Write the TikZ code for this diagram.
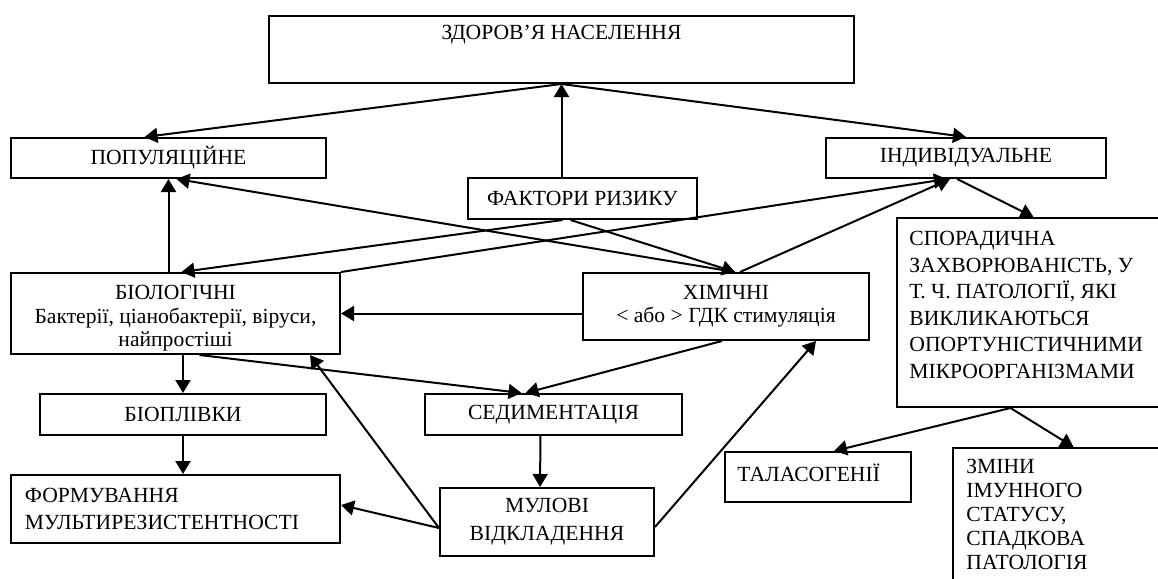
\documentclass[tikz,border=0pt]{standalone}
\usepackage{fontspec}
\setmainfont{Liberation Serif}
\usepackage{tikz}
\usetikzlibrary{arrows.meta}
\newcommand{\boxfont}[1]{\fontsize{10.8}{#1}\selectfont}
\tikzset{
  blk/.style = {rectangle, draw=black, line width=1pt, inner sep=0pt, align=center, font=\boxfont{12}},
  tl/.style = {anchor=north west, align=left, inner sep=0pt, font=\boxfont{13}},
  tc/.style = {anchor=north, inner sep=0pt, font=\boxfont{13}},
  arr/.style = {->, line width=1pt},
  >={Triangle[length=6.5pt, width=7.5pt]},
}
\begin{document}
\begin{tikzpicture}[x=0.5pt, y=-0.5pt]
\path[use as bounding box, clip] (0,0) rectangle (1158,579);
\node [blk, minimum width=292.5pt, minimum height=33.5pt,
  label={[tc, yshift=-5pt]north:ЗДОРОВ’Я НАСЕЛЕННЯ}] (zd) at (561.5,49.5) {};
\node [blk, minimum width=157.5pt, minimum height=20pt] (pop) at (168.5,158) {ПОПУЛЯЦІЙНЕ};
\node [blk, minimum width=140pt, minimum height=20pt] (ind) at (966,158) {ІНДИВІДУАЛЬНЕ};
\node [blk, minimum width=114.5pt, minimum height=20.5pt] (fak) at (582.5,198.5) {ФАКТОРИ РИЗИКУ};
\node [blk, minimum width=164.5pt, minimum height=40.5pt,
  label={[align=center, inner sep=0pt, yshift=-2.5pt, font=\boxfont{11.75}]center:{БІОЛОГІЧНІ\\Бактерії, ціанобактерії, віруси,\\найпростіші}}] (bio) at (175.5,313.5) {};
\node [blk, minimum width=143pt, minimum height=33.5pt, font=\boxfont{11.5}] (xim) at (726,306.5)
  {ХІМІЧНІ\\< або > ГДК стимуляція};
\node [blk, minimum width=136.5pt, minimum height=94.5pt,
  label={[tl, xshift=6.5pt, yshift=-7pt, font=\boxfont{13.25}]north west:{СПОРАДИЧНА\\ЗАХВОРЮВАНІСТЬ, У\\Т. Ч. ПАТОЛОГІЇ, ЯКІ\\ВИКЛИКАЮТЬСЯ\\ОПОРТУНІСТИЧНИМИ\\МІКРООРГАНІЗМАМИ}}] (spor) at (1033.5,312.5) {};
\node [blk, minimum width=143pt, minimum height=20.5pt] (bpl) at (183,414.5) {БІОПЛІВКИ};
\node [blk, minimum width=128.5pt, minimum height=20.5pt] (sed) at (553.5,414.5) {СЕДИМЕНТАЦІЯ};
\node [blk, minimum width=164.5pt, minimum height=34pt, align=left, text width=150.5pt, font=\boxfont{13.5}] (form) at (175.5,509)
  {ФОРМУВАННЯ\\МУЛЬТИРЕЗИСТЕНТНОСТІ};
\node [blk, minimum width=107pt, minimum height=34pt] (mul) at (547,522) {МУЛОВІ\\[2pt]ВІДКЛАДЕННЯ};
\node [blk, minimum width=93pt, minimum height=25pt,
  label={[tl, xshift=6.5pt, yshift=-6.5pt]north west:ТАЛАСОГЕНІЇ}] (tal) at (818,477) {};
\node [blk, minimum width=108.5pt, minimum height=76pt,
  label={[tl, xshift=7pt, yshift=-6pt, font=\boxfont{12}]north west:{ЗМІНИ\\ІМУННОГО\\СТАТУСУ,\\СПАДКОВА\\ПАТОЛОГІЯ}}] (zm) at (1061.5,524) {};

\draw[arr] (zd.south |- fak.north) -- (zd.south);
\draw[arr] (zd.south) -- ([xshift=-12pt]pop.north);
\draw[arr] (zd.south) -- (ind.north);
\draw[arr] (pop.south |- bio.north) -- (pop.south);
\draw[arr] ([xshift=4.5pt]xim.north) -- ([xshift=4pt]pop.south);
\draw[arr] ([xshift=-10pt]fak.south) -- ([xshift=3pt]bio.north);
\draw[arr] ([xshift=-6pt]fak.south) -- ([xshift=4.5pt]xim.north);
\draw[arr] (bio.north east) -- ([xshift=-9.5pt]ind.south);
\draw[arr] ([xshift=7pt]xim.north) -- ([xshift=-8pt]ind.south);
\draw[arr] ([xshift=-4.5pt]ind.south) -- (spor.north);
\draw[arr] (xim.west |- bio.east) -- (bio.east);
\draw[arr] (bpl.north |- bio.south) -- (bpl.north);
\draw[arr] ([xshift=12pt]bio.south) -- ([xshift=-16pt]sed.north);
\draw[arr] ([xshift=-2pt]xim.south) -- ([xshift=-14pt]sed.north);
\draw[arr] (bpl.south) -- (bpl.south |- form.north);
\draw[arr] ([xshift=-6.5pt]sed.south) -- ([xshift=-3.5pt]mul.north);
\draw[arr] ([yshift=-3pt]mul.west) -- ([yshift=2pt]form.east);
\draw[arr] ([yshift=-3pt]mul.west) -- ([xshift=-15.5pt]bio.south east);
\draw[arr] ([yshift=-2.5pt]mul.east) -- ([xshift=45pt]xim.south);
\draw[arr] ([xshift=-11.5pt]spor.south) -- ([xshift=8pt]tal.north);
\draw[arr] ([xshift=-11.5pt]spor.south) -- ([xshift=6pt]zm.north);
\end{tikzpicture}
\end{document}
